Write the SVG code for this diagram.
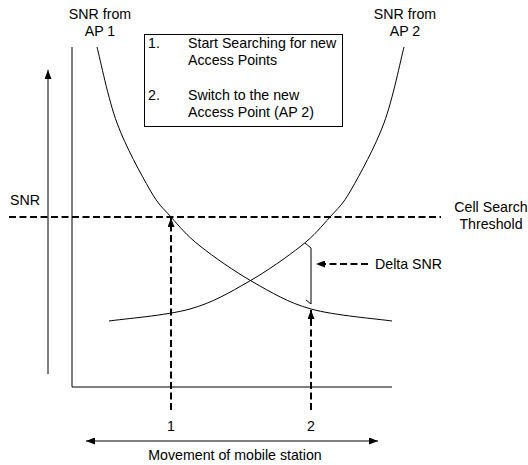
<svg xmlns="http://www.w3.org/2000/svg" width="528" height="465" viewBox="0 0 528 465">
<style>
text{font-family:"Liberation Sans",Arial,sans-serif;font-size:14.2px;fill:#000}
.ln{stroke:#000;stroke-width:1;fill:none}
.dash{stroke:#000;stroke-width:2;fill:none;stroke-dasharray:7 3.5}
.c{text-anchor:middle}
</style>
<defs>
<marker id="ah" viewBox="0 0 9 7" refX="9" refY="3.5" markerWidth="9" markerHeight="7" markerUnits="userSpaceOnUse" orient="auto-start-reverse">
<path d="M0,0 L9,3.5 L0,7 Z" fill="#000"/>
</marker>
</defs>
<rect width="528" height="465" fill="#fff"/>
<g id="axes">
<line class="ln" x1="72" y1="47" x2="72" y2="387"/>
<line class="ln" x1="72" y1="387" x2="392" y2="387"/>
</g>
<g id="snr-axis">
<line class="ln" x1="48" y1="374" x2="48" y2="70" marker-end="url(#ah)"/>
<text x="10" y="205">SNR</text>
</g>
<g id="curve-ap1">
<path id="ap1" class="ln" d="M97,47 C100.3,59.7 108.2,99.2 117,123 C125.8,146.8 141,174.3 150,190 C159,205.7 162.7,207.7 171,217 C179.3,226.3 186.3,235.2 200,246 C213.7,256.8 234.5,271.5 253,282 C271.5,292.5 287.8,302.5 311,309 C334.2,315.5 378.5,319 392,321"/>
<text class="c" x="100" y="19">SNR from</text>
<text class="c" x="100" y="36">AP 1</text>
</g>
<g id="curve-ap2">
<path class="ln" transform="translate(501,0) scale(-1,1)" d="M97,47 C100.3,59.7 108.2,99.2 117,123 C125.8,146.8 141,174.3 150,190 C159,205.7 162.7,207.7 171,217 C179.3,226.3 186.3,235.2 200,246 C213.7,256.8 234.5,271.5 253,282 C271.5,292.5 287.8,302.5 311,309 C334.2,315.5 378.5,319 392,321"/>
<text class="c" x="405" y="19">SNR from</text>
<text class="c" x="405" y="36">AP 2</text>
</g>
<g id="threshold">
<line class="dash" x1="9" y1="217" x2="441" y2="217"/>
<text class="c" x="491" y="212">Cell Search</text>
<text class="c" x="491" y="229">Threshold</text>
</g>
<g id="legend">
<rect x="144.5" y="34.5" width="198" height="92" fill="#fff" stroke="#000" stroke-width="1"/>
<text x="148" y="48">1.</text>
<text x="188" y="48">Start Searching for new</text>
<text x="188" y="65">Access Points</text>
<text x="148" y="100">2.</text>
<text x="188" y="100">Switch to the new</text>
<text x="188" y="117">Access Point (AP 2)</text>
</g>
<g id="connectors">
<line class="dash" x1="171" y1="410" x2="171" y2="218" marker-end="url(#ah)"/>
<line class="dash" x1="311" y1="410" x2="311" y2="310" marker-end="url(#ah)"/>
<polyline class="ln" points="305,243 311,248 311,304 306,300"/>
<line class="dash" x1="368" y1="264" x2="316" y2="264" marker-end="url(#ah)"/>
<line class="ln" x1="86" y1="441" x2="378" y2="441" marker-start="url(#ah)" marker-end="url(#ah)"/>
</g>
<g id="labels">
<text class="c" x="171" y="431">1</text>
<text class="c" x="311" y="431">2</text>
<text x="375" y="269">Delta SNR</text>
<text class="c" x="235" y="460">Movement of mobile station</text>
</g>
</svg>
